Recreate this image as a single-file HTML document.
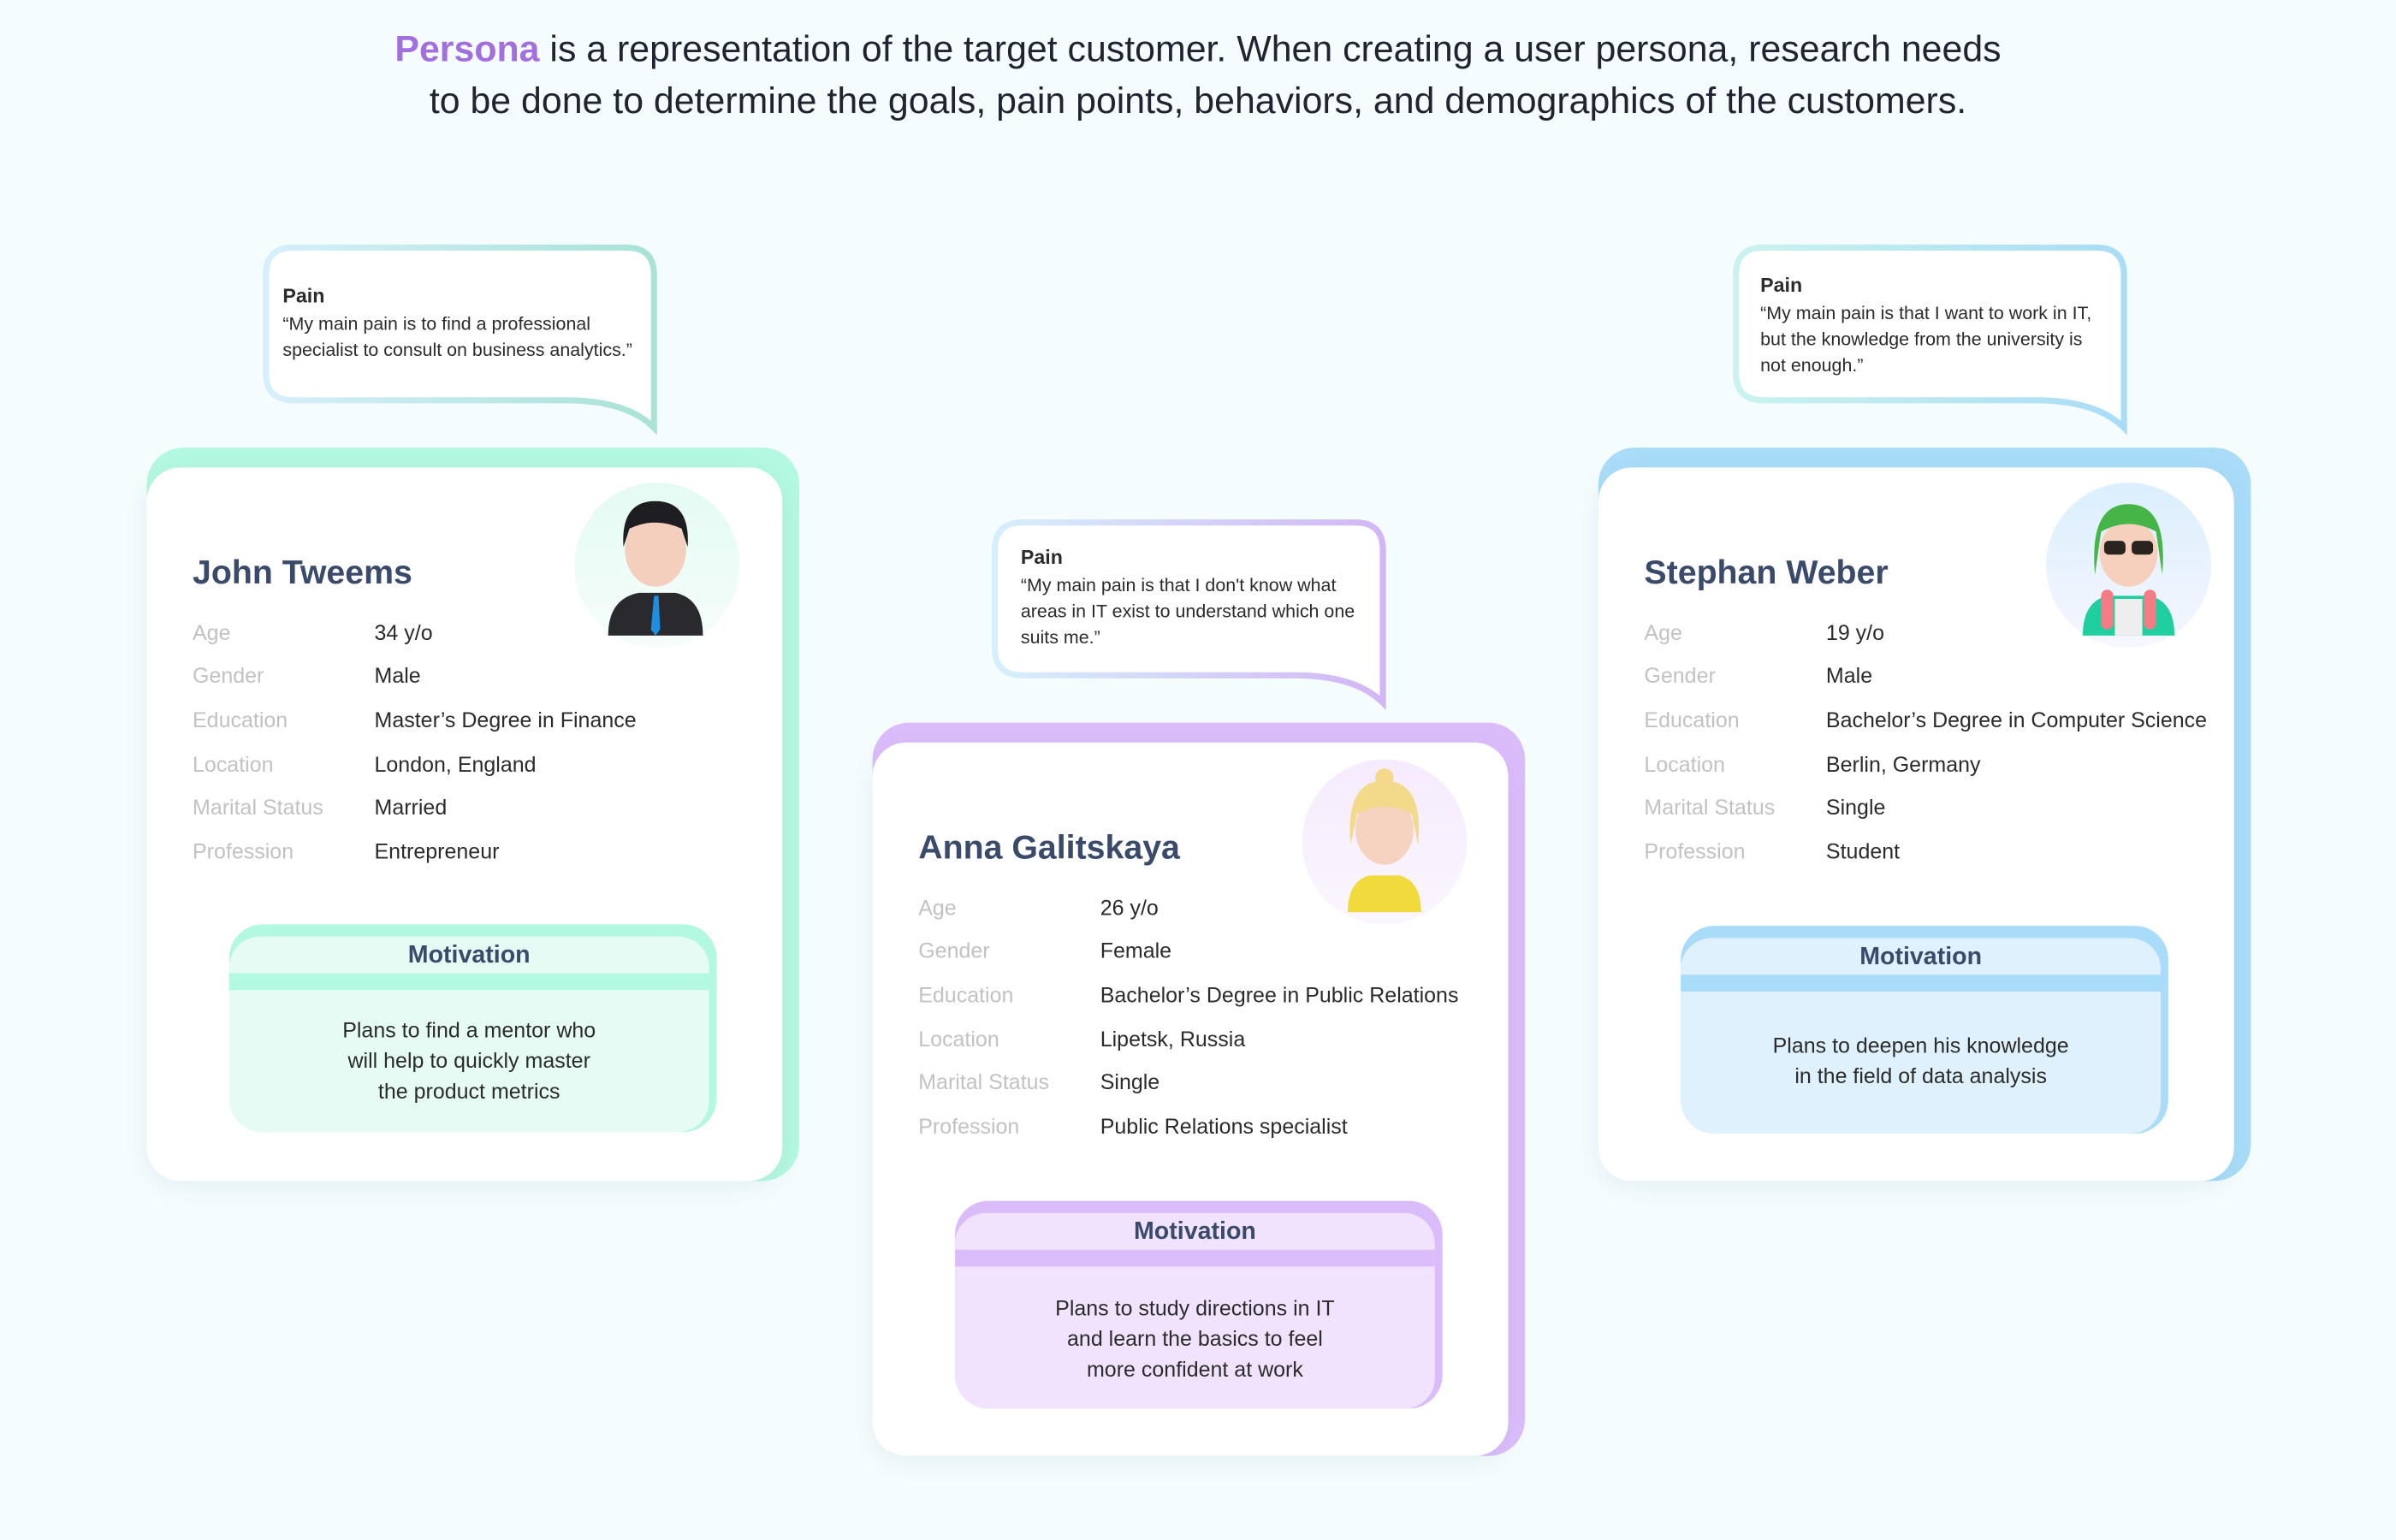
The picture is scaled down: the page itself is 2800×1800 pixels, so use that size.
<!DOCTYPE html>
<html><head><meta charset="utf-8"><style>
html,body{margin:0;padding:0;background:#f4fcfd;}
body{width:2800px;height:1800px;overflow:hidden;}
#w{position:absolute;left:0;top:0;width:1568px;height:1008px;transform:scale(1.785714);transform-origin:0 0;font-family:"Liberation Sans",sans-serif;}
.a{position:absolute;}
.hdr{left:0;width:1568px;text-align:center;font-size:24px;color:#1f2430;line-height:34px;top:16px;}
.outer{position:absolute;width:427px;height:480px;border-radius:24px;}
.inner{position:absolute;left:0;top:13px;width:416px;height:467px;background:#fff;border-radius:22px;box-shadow:0 4px 14px rgba(120,160,170,0.12);}
.name{position:absolute;font-size:22px;font-weight:bold;color:#3a4a6b;}
.lab{position:absolute;font-size:14px;color:#c2c2c2;}
.val{position:absolute;font-size:14px;color:#2b2b2b;}
.mo{position:absolute;width:319px;height:136px;border-radius:22px;}
.mi{position:absolute;left:0;top:8px;right:5px;bottom:0;border-radius:20px 20px 20px 22px;}
.mt{position:absolute;left:0;right:0;top:4px;text-align:center;font-size:16px;font-weight:bold;color:#3a4a6b;}
.ms{position:absolute;left:0;right:0;top:24px;height:11px;}
.mb{position:absolute;left:0;right:0;text-align:center;font-size:14px;line-height:20px;color:#2b2b2b;}
.bt{position:absolute;font-size:12px;line-height:17px;color:#2b2b2b;}
.bt b{font-size:13px;display:block;margin-bottom:2px;}
</style></head><body><div id="w">
<div class="a hdr"><span style="color:#a36fe0;font-weight:bold">Persona</span> is a representation of the target customer. When creating a user persona, research needs<br>to be done to determine the goals, pain points, behaviors, and demographics of the customers.</div>

<svg class="a" style="left:170px;top:158px" width="264" height="128"><defs><linearGradient id="g1" x1="0" x2="1"><stop offset="0" stop-color="#d6effc"/><stop offset="1" stop-color="#a8e3d6"/></linearGradient></defs><path d="M22,4 H240 Q258,4 258,22 V122 Q240,104 200,104 H22 Q4,104 4,86 V22 Q4,4 22,4 Z" fill="#fff" stroke="url(#g1)" stroke-width="4"/></svg>
<div class="bt" style="left:185px;top:185px"><b>Pain</b>“My main pain is to find a professional<br>specialist to consult on business analytics.”</div>

<svg class="a" style="left:647px;top:338px" width="264" height="128"><defs><linearGradient id="g2" x1="0" x2="1"><stop offset="0" stop-color="#d6effc"/><stop offset="1" stop-color="#d2b6f5"/></linearGradient></defs><path d="M22,4 H240 Q258,4 258,22 V122 Q240,104 200,104 H22 Q4,104 4,86 V22 Q4,4 22,4 Z" fill="#fff" stroke="url(#g2)" stroke-width="4"/></svg>
<div class="bt" style="left:668px;top:356px"><b>Pain</b>“My main pain is that I don't know what<br>areas in IT exist to understand which one<br>suits me.”</div>

<svg class="a" style="left:1132px;top:158px" width="264" height="128"><defs><linearGradient id="g3" x1="0" x2="1"><stop offset="0" stop-color="#c9f3ee"/><stop offset="1" stop-color="#a9dcf6"/></linearGradient></defs><path d="M22,4 H240 Q258,4 258,22 V122 Q240,104 200,104 H22 Q4,104 4,86 V22 Q4,4 22,4 Z" fill="#fff" stroke="url(#g3)" stroke-width="4"/></svg>
<div class="bt" style="left:1152px;top:178px"><b>Pain</b>“My main pain is that I want to work in IT,<br>but the knowledge from the university is<br>not enough.”</div>

<div class="outer" style="left:96px;top:293px;background:#b3f8e0"><div class="inner"></div></div>
<div class="a" style="left:376px;top:316px;width:108px;height:108px;border-radius:50%;background:linear-gradient(#e4fbf3,#f6fdfb)"></div>
<svg class="a" style="left:376px;top:316px" width="108" height="108"><path d="M22,100 Q22,76 42,72 L66,72 Q84,76 84,100 Z" fill="#2a2a2e"/><path d="M52,74 L55,74 L56,96 L53,100 L50,96Z" fill="#1d8fe0"/><ellipse cx="53" cy="44" rx="20" ry="24" fill="#f4cfbd"/><path d="M32,42 Q30,12 53,12 Q76,12 74,42 L70,30 Q53,22 36,30 Z" fill="#1e1e22"/></svg>
<div class="name" style="left:126px;top:362px">John Tweems</div>
<div class="lab" style="left:126px;top:406px">Age</div><div class="val" style="left:245px;top:406px">34 y/o</div>
<div class="lab" style="left:126px;top:434px">Gender</div><div class="val" style="left:245px;top:434px">Male</div>
<div class="lab" style="left:126px;top:463px">Education</div><div class="val" style="left:245px;top:463px">Master’s Degree in Finance</div>
<div class="lab" style="left:126px;top:492px">Location</div><div class="val" style="left:245px;top:492px">London, England</div>
<div class="lab" style="left:126px;top:520px">Marital Status</div><div class="val" style="left:245px;top:520px">Married</div>
<div class="lab" style="left:126px;top:549px">Profession</div><div class="val" style="left:245px;top:549px">Entrepreneur</div>
<div class="mo" style="left:150px;top:605px;background:#b3f8e0"><div class="mi" style="background:#e5fbf3"><div class="mt">Motivation</div><div class="ms" style="background:#b3f8e0"></div><div class="mb" style="top:51px">Plans to find a mentor who<br>will help to quickly master<br>the product metrics</div></div></div>

<div class="outer" style="left:571px;top:473px;background:#dbbcfa"><div class="inner"></div></div>
<div class="a" style="left:852px;top:497px;width:108px;height:108px;border-radius:50%;background:linear-gradient(#f5ebfd,#faf6fe)"></div>
<svg class="a" style="left:852px;top:497px" width="108" height="108"><path d="M30,100 Q30,80 44,76 L64,76 Q78,80 78,100 Z" fill="#f1da3c"/><ellipse cx="54" cy="46" rx="19" ry="23" fill="#f6d3c0"/><path d="M32,56 Q28,14 54,14 Q80,14 76,56 L72,36 Q54,26 36,36 Z" fill="#f3d98a"/><circle cx="54" cy="12" r="6" fill="#f3d98a"/></svg>
<div class="name" style="left:601px;top:542px">Anna Galitskaya</div>
<div class="lab" style="left:601px;top:586px">Age</div><div class="val" style="left:720px;top:586px">26 y/o</div>
<div class="lab" style="left:601px;top:614px">Gender</div><div class="val" style="left:720px;top:614px">Female</div>
<div class="lab" style="left:601px;top:643px">Education</div><div class="val" style="left:720px;top:643px">Bachelor’s Degree in Public Relations</div>
<div class="lab" style="left:601px;top:672px">Location</div><div class="val" style="left:720px;top:672px">Lipetsk, Russia</div>
<div class="lab" style="left:601px;top:700px">Marital Status</div><div class="val" style="left:720px;top:700px">Single</div>
<div class="lab" style="left:601px;top:729px">Profession</div><div class="val" style="left:720px;top:729px">Public Relations specialist</div>
<div class="mo" style="left:625px;top:786px;background:#dbbcfa"><div class="mi" style="background:#f1e3fd"><div class="mt">Motivation</div><div class="ms" style="background:#dbbcfa"></div><div class="mb" style="top:52px">Plans to study directions in IT<br>and learn the basics to feel<br>more confident at work</div></div></div>

<div class="outer" style="left:1046px;top:293px;background:#a8dcf8"><div class="inner"></div></div>
<div class="a" style="left:1339px;top:316px;width:108px;height:108px;border-radius:50%;background:linear-gradient(#dbeffd,#f6f6fe)"></div>
<svg class="a" style="left:1339px;top:316px" width="108" height="108"><path d="M24,100 Q24,78 40,74 L68,74 Q84,78 84,100 Z" fill="#1fcf9f"/><rect x="45" y="76" width="18" height="24" fill="#eee"/><rect x="36" y="70" width="8" height="26" rx="4" fill="#f57b85"/><rect x="64" y="70" width="8" height="26" rx="4" fill="#f57b85"/><ellipse cx="54" cy="46" rx="19" ry="22" fill="#f6d0bd"/><path d="M32,60 Q28,14 54,14 Q80,14 76,60 L72,32 Q54,22 36,32 Z" fill="#45b548"/><rect x="38" y="38" width="14" height="9" rx="3" fill="#2a2420"/><rect x="56" y="38" width="14" height="9" rx="3" fill="#2a2420"/></svg>
<div class="name" style="left:1076px;top:362px">Stephan Weber</div>
<div class="lab" style="left:1076px;top:406px">Age</div><div class="val" style="left:1195px;top:406px">19 y/o</div>
<div class="lab" style="left:1076px;top:434px">Gender</div><div class="val" style="left:1195px;top:434px">Male</div>
<div class="lab" style="left:1076px;top:463px">Education</div><div class="val" style="left:1195px;top:463px">Bachelor’s Degree in Computer Science</div>
<div class="lab" style="left:1076px;top:492px">Location</div><div class="val" style="left:1195px;top:492px">Berlin, Germany</div>
<div class="lab" style="left:1076px;top:520px">Marital Status</div><div class="val" style="left:1195px;top:520px">Single</div>
<div class="lab" style="left:1076px;top:549px">Profession</div><div class="val" style="left:1195px;top:549px">Student</div>
<div class="mo" style="left:1100px;top:606px;background:#a8dcf8"><div class="mi" style="background:#dff1fc"><div class="mt">Motivation</div><div class="ms" style="background:#a8dcf8"></div><div class="mb" style="top:60px">Plans to deepen his knowledge<br>in the field of data analysis</div></div></div>
</div></body></html>
